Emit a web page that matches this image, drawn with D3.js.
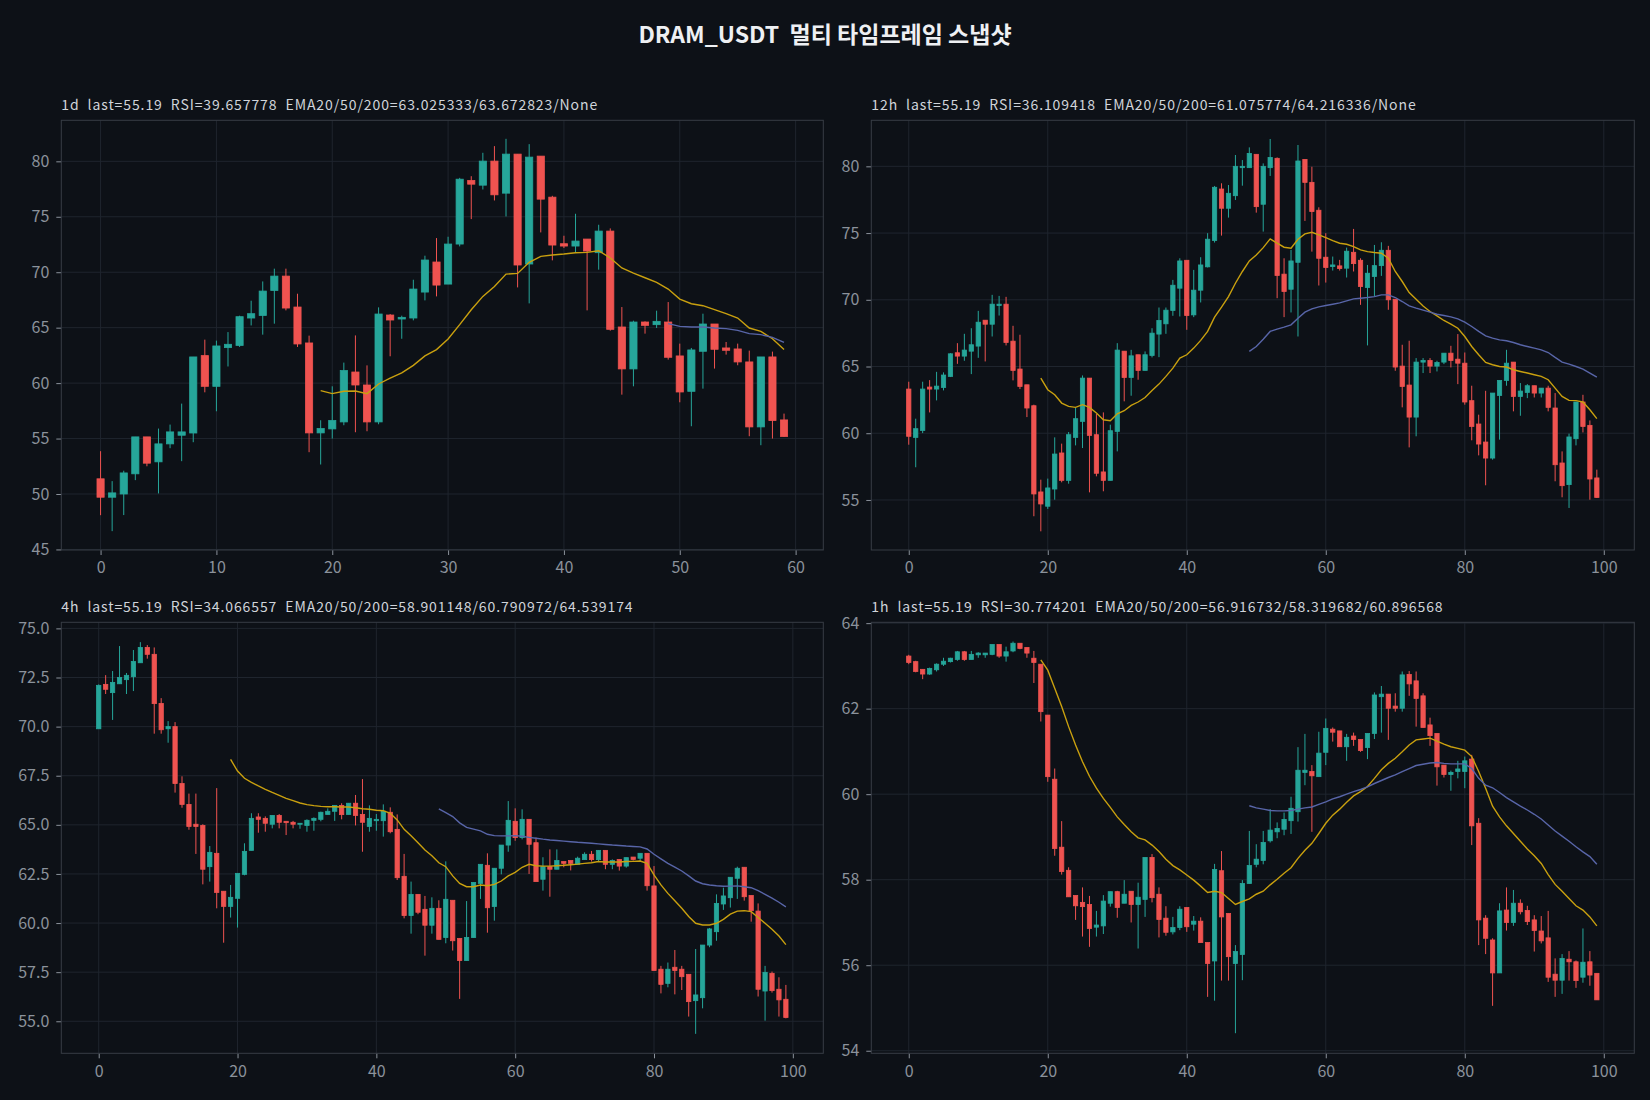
<!DOCTYPE html>
<html>
<head>
<meta charset="utf-8">
<script src="https://cdn.jsdelivr.net/npm/d3@7"></script>
<style>
  html, body { margin: 0; padding: 0; background: #0d1117; }
  svg { display: block; }
  text { font-family: "Noto Sans CJK KR", "Noto Sans", sans-serif; }
</style>
</head>
<body>
<svg id="chart" width="1650" height="1100"></svg>
<script>
var title = 'DRAM_USDT  멀티 타임프레임 스냅샷';

var EMA20_START = 19;
var EMA50_START = 49;

// ---- 1d ----
var open1d = [51.37,49.71,50.0,51.82,55.15,52.9,54.52,55.3,55.5,62.48,59.71,63.2,63.4,65.87,66.1,68.36,69.65,66.86,63.62,55.51,55.87,56.5,61.0,59.83,56.5,66.14,65.78,65.87,68.21,70.92,68.93,72.54,78.27,77.85,80.02,77.13,80.65,70.74,80.47,76.77,72.57,72.36,72.99,71.76,73.71,65.06,61.28,65.51,65.27,65.51,62.45,59.26,62.87,65.33,63.17,63.08,61.91,56.05,62.36,56.68];
var high1d = [53.86,51.16,52.1,55.15,55.15,55.9,56.26,58.15,62.36,63.92,63.83,64.6,66.08,67.43,69.17,70.32,70.32,68.06,64.28,56.65,59.71,61.85,64.3,61.6,66.83,66.23,66.08,69.32,71.49,73.08,73.2,78.51,78.66,80.77,81.37,82.03,80.65,81.55,80.47,76.89,73.29,75.27,72.99,74.28,73.95,66.86,65.63,65.57,66.53,67.31,63.56,63.17,66.26,65.33,63.71,63.56,62.93,62.36,62.84,57.25];
var low1d = [48.09,46.65,48.1,51.25,52.5,50.05,54.13,52.96,54.67,59.17,57.46,61.5,63.26,65.2,64.37,65.36,66.56,63.26,53.77,52.66,55.0,56.2,55.57,55.66,56.29,62.42,64.0,65.66,67.46,67.82,68.93,72.33,74.79,77.46,76.47,75.03,68.63,67.19,73.59,71.07,72.18,71.76,66.56,70.23,64.73,58.96,59.71,64.46,64.97,62.12,58.27,56.11,59.5,61.31,62.57,61.61,55.21,54.4,55.0,55.15];
var close1d = [49.71,50.1,51.9,55.15,52.78,54.52,55.6,55.6,62.36,59.71,63.35,63.5,65.99,66.26,68.3,69.65,66.77,63.53,55.51,55.9,56.62,61.13,59.83,56.5,66.23,65.69,65.93,68.48,71.1,68.84,72.54,78.39,77.94,80.02,76.98,80.65,70.65,80.38,76.59,72.45,72.36,72.81,71.91,73.71,64.85,61.28,65.51,65.21,65.57,62.33,59.2,62.99,65.33,63.05,62.96,61.91,56.05,62.36,56.62,55.19];
var ema20_1d = [59.32,59.05,59.26,59.29,59.05,59.92,60.44,60.92,61.6,62.45,63.02,63.98,65.27,66.62,67.82,68.72,69.83,69.89,70.89,71.43,71.55,71.64,71.76,71.79,71.94,71.28,70.38,69.92,69.5,69.08,68.48,67.58,67.16,66.98,66.62,66.26,65.87,64.97,64.67,64.0,63.03];
var ema50_1d = [65.36,65.12,65.06,65.06,64.97,64.91,64.76,64.46,64.37,64.13,63.67];

// ---- 12h ----
var open12h = [63.31,59.69,60.21,63.46,63.31,63.43,64.26,66.03,65.78,66.15,66.53,68.47,68.17,69.57,69.67,66.9,64.81,63.63,62.06,55.6,54.53,55.82,58.52,56.47,59.69,60.89,64.13,59.89,57.1,56.47,60.14,66.15,64.18,65.88,64.71,65.83,67.43,68.2,69.2,70.87,72.96,68.87,70.72,72.47,74.44,78.3,76.86,77.8,79.9,79.9,80.9,77.16,79.9,80.6,71.92,70.79,72.81,80.52,78.8,76.71,73.19,72.49,72.54,72.37,73.56,72.96,70.92,71.74,72.56,73.71,70.04,65.03,63.61,61.21,65.33,65.45,65.03,65.33,66.0,65.55,65.25,62.44,60.69,59.34,58.14,62.83,63.96,65.33,62.76,63.06,63.56,63.01,63.38,61.89,57.77,56.15,59.59,62.34,60.59,56.65];
var high12h = [63.86,61.09,63.86,63.98,64.6,64.56,66.0,66.75,67.45,67.87,69.17,68.47,70.37,70.29,70.22,68.05,67.38,63.63,62.14,56.52,56.6,59.69,59.22,60.09,61.89,64.33,64.13,61.44,61.56,60.64,66.75,66.15,66.25,65.88,66.13,67.87,69.42,69.42,71.49,73.11,72.96,72.24,73.19,74.99,78.53,78.73,78.6,80.85,80.47,81.42,80.9,80.22,82.05,80.67,73.11,73.74,81.6,80.52,79.97,76.93,74.99,73.24,72.99,73.91,75.31,73.11,72.61,74.11,74.31,74.04,70.04,66.63,66.93,65.63,65.63,65.63,65.43,66.0,66.55,67.43,66.05,63.56,61.39,63.18,63.01,63.96,66.25,65.33,63.76,63.68,63.56,63.38,63.56,63.01,58.64,59.97,62.34,62.88,60.96,57.27];
var low12h = [59.14,57.45,60.01,61.56,62.46,63.21,64.21,65.2,65.43,64.43,65.65,65.38,67.25,68.82,66.58,63.96,63.31,61.21,53.78,52.65,54.33,55.02,56.32,56.22,59.09,58.89,55.57,56.77,55.65,56.47,58.64,62.39,62.81,64.01,64.71,65.68,65.7,67.45,68.8,68.75,67.75,68.7,69.8,72.42,74.29,74.81,76.16,77.48,78.55,79.9,76.53,75.11,79.28,70.12,68.7,69.05,67.25,75.91,73.61,71.07,71.29,72.19,72.19,71.67,72.12,69.62,66.58,70.24,71.79,69.25,64.68,61.94,58.94,59.77,64.51,64.51,64.63,65.18,64.93,63.68,62.14,59.47,58.34,56.1,58.02,59.52,63.56,61.64,61.31,62.63,62.68,62.68,61.64,56.4,55.2,54.4,59.09,60.06,55.02,55.15];
var close12h = [59.77,60.34,63.31,63.31,63.53,64.36,65.95,65.78,66.23,66.63,68.32,68.17,69.67,69.67,66.8,64.71,63.51,61.89,55.45,54.7,55.9,58.44,56.47,59.89,61.09,64.13,59.84,57.0,56.47,60.19,66.23,64.18,65.8,64.71,65.88,67.5,68.45,69.22,71.09,72.91,68.82,70.72,72.61,74.54,78.43,76.86,77.98,80.0,80.0,80.97,76.98,80.0,80.67,71.82,70.62,72.91,80.4,78.8,76.61,73.11,72.42,72.61,72.34,73.64,72.71,70.99,71.99,72.56,73.71,70.0,64.96,63.51,61.21,65.33,65.45,65.03,65.3,66.0,65.45,65.25,62.34,60.51,59.19,58.14,63.01,63.96,65.25,62.76,63.16,63.56,63.01,63.38,61.94,57.64,56.07,59.72,62.34,60.51,56.57,55.19];
var ema20_12h = [64.13,63.26,62.88,62.26,62.01,61.94,62.14,61.94,61.51,61.01,60.94,61.46,61.69,62.09,62.34,62.68,63.21,63.68,64.26,64.88,65.63,65.88,66.38,66.96,67.63,68.7,69.45,70.24,71.24,72.12,72.91,73.36,73.91,74.56,74.24,73.94,73.86,74.54,74.94,75.06,74.86,74.66,74.44,74.24,74.16,73.99,73.74,73.61,73.54,73.49,73.11,72.12,71.37,70.54,70.04,69.54,69.12,68.8,68.45,68.17,67.87,67.25,66.5,65.88,65.3,65.13,65.0,64.96,64.76,64.63,64.51,64.38,64.26,64.01,63.38,62.76,62.46,62.44,62.34,61.76,61.09];
var ema50_12h = [66.13,66.5,67.05,67.63,67.8,67.95,68.12,68.62,69.07,69.32,69.47,69.57,69.67,69.77,69.92,70.07,70.12,70.17,70.24,70.37,70.37,70.17,69.87,69.54,69.37,69.22,69.07,68.92,68.82,68.72,68.57,68.32,68.0,67.63,67.3,67.13,67.0,66.93,66.8,66.63,66.5,66.38,66.25,66.05,65.68,65.33,65.18,65.0,64.81,64.51,64.2];

// ---- 4h ----
var open4h = [69.89,72.15,71.73,72.18,72.39,72.54,73.25,74.03,73.68,71.18,69.89,70.0,67.1,66.04,65.03,64.97,62.87,63.55,61.62,60.85,61.26,62.48,63.7,65.4,65.33,65.03,65.48,65.18,65.13,65.03,64.97,65.23,65.28,65.53,65.69,65.99,65.53,66.1,65.53,64.92,65.21,65.21,65.64,64.77,62.38,60.38,61.46,60.7,59.89,60.75,59.26,61.16,59.22,58.09,59.26,62.02,62.94,60.84,62.79,63.97,65.18,64.35,65.28,64.09,62.23,62.87,62.74,63.13,63.18,62.99,63.23,63.5,63.23,63.7,62.99,63.24,62.9,63.36,63.3,63.55,61.89,57.65,56.93,57.75,57.65,57.39,56.05,56.2,58.88,59.56,60.97,61.29,62.28,62.84,61.4,60.61,56.54,57.44,56.63,56.12];
var high4h = [72.15,72.62,72.83,74.1,72.73,73.9,74.3,74.15,74.03,71.45,70.28,70.23,67.47,66.59,66.59,65.03,63.92,66.87,61.62,61.94,62.53,64.06,65.59,65.59,65.43,65.48,65.55,65.18,65.2,65.08,65.28,65.38,65.67,65.84,65.99,66.1,66.1,66.52,67.33,65.99,65.55,66.04,65.89,65.53,63.52,62.11,61.46,61.38,61.31,61.16,63.14,61.16,59.22,61.12,62.07,62.99,63.55,62.79,63.97,66.21,65.84,65.79,65.28,64.35,63.35,63.75,63.75,63.13,63.18,63.38,63.6,63.67,63.7,63.7,63.24,63.24,63.33,63.36,63.55,63.55,62.9,57.82,57.99,58.63,57.82,57.39,58.68,58.88,59.75,61.46,61.8,62.33,62.87,62.84,61.4,61.0,57.82,57.53,57.24,56.85];
var low4h = [69.89,71.66,70.34,72.18,71.66,71.81,73.25,73.46,69.64,69.64,69.18,66.64,65.87,64.75,63.52,61.97,62.11,60.75,59.0,60.28,59.77,62.43,63.7,64.6,64.65,64.82,64.82,64.48,64.82,64.8,64.65,64.7,65.18,65.53,65.2,65.28,65.53,64.97,63.63,64.65,64.7,64.4,64.57,62.19,60.24,59.46,60.45,58.34,59.46,59.17,58.97,58.6,56.14,58.09,59.26,61.23,59.51,60.12,62.48,63.63,64.19,64.26,62.5,62.11,61.65,61.34,62.74,62.84,62.68,62.99,63.23,63.13,63.13,62.74,62.74,62.67,62.82,63.18,63.13,61.65,57.58,56.42,56.73,56.37,56.59,55.24,54.36,55.66,58.77,59.1,60.67,60.79,61.23,61.14,60.07,56.26,55.03,56.46,55.24,55.15];
var close4h = [72.1,71.9,72.25,72.5,72.61,73.32,74.03,73.68,71.17,69.84,70.0,67.1,66.04,64.92,64.92,62.74,63.6,61.56,60.85,61.31,62.53,63.65,65.33,65.28,65.08,65.48,65.13,65.11,65.03,65.08,65.23,65.33,65.64,65.69,65.99,65.52,66.1,65.48,65.13,65.33,65.28,65.69,64.65,62.31,60.38,61.46,60.55,59.89,60.75,59.17,61.21,59.1,58.09,59.27,62.07,62.99,60.78,62.79,63.97,65.23,64.35,65.28,64.01,62.11,62.87,62.74,63.18,63.04,63.04,63.3,63.5,63.23,63.7,62.99,63.18,62.9,63.33,63.24,63.55,61.9,57.58,56.88,57.65,57.58,57.27,56.0,56.34,58.88,59.7,61.0,61.38,62.33,62.79,61.34,60.63,56.63,57.49,56.56,56.09,55.19];
var ema20_4h = [68.33,67.74,67.37,67.16,66.98,66.81,66.65,66.5,66.35,66.23,66.11,66.03,65.98,65.94,65.92,65.92,65.91,65.91,65.87,65.82,65.79,65.74,65.72,65.59,65.25,64.77,64.45,64.09,63.72,63.43,63.07,62.87,62.4,62.02,61.85,61.85,61.94,61.9,61.97,62.14,62.4,62.58,62.84,62.99,62.92,62.9,62.9,62.92,62.94,62.97,63.0,63.04,63.07,63.13,63.11,63.11,63.11,63.13,63.14,63.16,63.04,62.45,61.94,61.51,61.14,60.75,60.33,59.99,59.9,59.9,59.99,60.19,60.45,60.61,60.63,60.58,60.28,59.99,59.68,59.34,58.9];
var ema50_4h = [65.81,65.62,65.42,65.1,64.87,64.78,64.69,64.52,64.45,64.44,64.44,64.45,64.42,64.36,64.32,64.27,64.23,64.2,64.17,64.14,64.11,64.09,64.06,64.03,64.0,63.97,63.95,63.92,63.9,63.88,63.77,63.5,63.27,63.04,62.85,62.65,62.4,62.14,62.0,61.94,61.9,61.87,61.88,61.89,61.85,61.8,61.65,61.46,61.27,61.06,60.82];

// ---- 1h ----
var open1h = [63.23,63.1,62.92,62.81,62.91,63.04,63.1,63.15,63.33,63.15,63.26,63.26,63.27,63.5,63.23,63.35,63.53,63.43,63.18,63.04,61.85,60.35,58.76,58.22,57.63,57.47,57.42,56.89,56.92,57.45,57.72,57.45,57.73,57.42,57.54,58.52,57.66,57.1,56.78,56.88,57.35,56.96,57.03,56.53,56.1,58.21,57.21,56.04,56.25,57.91,58.36,58.45,58.91,59.12,59.18,59.38,59.59,60.51,60.53,60.41,60.98,61.52,61.48,61.11,61.36,61.28,61.09,61.42,62.28,62.34,62.06,62.01,62.8,62.65,62.3,61.62,61.42,60.68,60.46,60.53,60.53,60.82,59.32,57.1,56.59,55.82,57.29,57.0,57.45,57.28,57.06,56.8,56.64,55.79,55.65,56.14,56.08,55.72,56.08,55.81];
var high1h = [63.26,63.12,62.92,62.96,63.06,63.19,63.19,63.35,63.35,63.35,63.32,63.3,63.5,63.5,63.45,63.57,63.53,63.43,63.35,63.04,61.85,60.6,59.37,58.29,57.63,57.82,57.62,57.27,57.64,57.72,57.74,57.99,57.73,57.93,58.52,58.6,57.82,57.38,57.13,57.38,57.35,57.15,57.12,56.53,58.37,58.67,57.21,56.47,57.99,59.14,58.83,59.14,59.65,59.34,59.57,59.94,61.1,61.41,60.68,61.46,61.77,61.56,61.48,61.41,61.44,61.28,61.42,62.38,62.53,62.34,62.36,62.87,62.88,62.87,62.36,61.79,61.42,60.68,60.55,60.78,60.88,60.92,59.44,57.17,56.63,57.45,57.82,57.76,57.54,57.39,57.17,57.15,57.27,56.16,56.26,56.33,56.11,56.86,56.33,55.81];
var low1h = [63.04,62.85,62.69,62.79,62.87,63.0,63.08,63.12,63.12,63.15,63.19,63.19,63.25,63.19,63.1,63.32,63.39,63.19,62.6,61.7,60.29,58.56,58.12,57.6,57.06,56.67,56.43,56.67,56.73,57.37,57.11,57.45,57.0,56.39,57.13,57.47,56.65,56.69,56.72,56.82,56.78,56.81,56.53,55.26,55.17,55.64,55.64,54.41,55.65,57.91,58.29,58.36,58.87,58.97,59.04,59.07,59.36,60.21,59.12,60.41,60.68,61.23,61.11,60.78,61.13,60.99,60.82,61.29,61.44,61.27,61.93,61.93,62.3,61.58,61.56,61.13,60.2,60.39,60.08,60.37,60.14,58.81,56.47,56.26,55.05,55.82,56.81,56.92,57.19,56.94,56.32,56.51,55.61,55.26,55.33,55.64,55.47,55.59,55.52,55.19];
var close1h = [63.08,62.87,62.81,62.94,63.04,63.11,63.18,63.33,63.15,63.27,63.3,63.3,63.5,63.23,63.33,63.53,63.41,63.3,63.08,61.93,60.41,58.73,58.19,57.6,57.39,57.37,56.86,56.94,57.5,57.72,57.35,57.66,57.42,57.59,58.52,57.58,57.07,56.77,56.88,57.31,56.9,57.03,56.53,56.04,58.24,57.13,56.2,56.32,57.91,58.33,58.48,58.87,59.16,59.2,59.41,59.67,60.56,60.56,60.43,60.96,61.54,61.45,61.11,61.33,61.28,61.02,61.42,62.32,62.34,62.01,62.01,62.79,62.58,62.24,61.56,61.37,60.64,60.46,60.51,60.59,60.78,59.26,57.06,56.63,55.82,57.27,57.0,57.45,57.25,57.02,56.81,56.57,55.72,55.65,56.16,56.08,55.64,56.07,55.77,55.19];
var ema20_1h = [63.14,62.9,62.48,62.05,61.58,61.15,60.76,60.42,60.14,59.9,59.69,59.47,59.29,59.12,58.98,58.93,58.81,58.66,58.48,58.33,58.23,58.11,57.99,57.85,57.7,57.73,57.7,57.56,57.42,57.49,57.55,57.66,57.73,57.88,58.01,58.15,58.28,58.5,58.69,58.85,59.08,59.32,59.51,59.65,59.81,59.96,60.06,60.18,60.37,60.57,60.72,60.84,60.99,61.15,61.27,61.29,61.31,61.24,61.17,61.11,61.07,61.03,60.88,60.53,60.14,59.72,59.47,59.26,59.08,58.9,58.72,58.56,58.38,58.12,57.89,57.73,57.56,57.39,57.29,57.13,56.92];
var ema50_1h = [59.73,59.68,59.65,59.62,59.61,59.61,59.62,59.65,59.68,59.7,59.76,59.82,59.89,59.94,60.0,60.06,60.11,60.17,60.25,60.32,60.39,60.45,60.53,60.6,60.67,60.7,60.73,60.74,60.72,60.71,60.71,60.71,60.6,60.37,60.21,60.15,60.04,59.92,59.82,59.72,59.63,59.53,59.42,59.28,59.14,59.02,58.9,58.77,58.65,58.54,58.36];

var panels = [
	{ label: '1d  last=55.19  RSI=39.657778  EMA20/50/200=63.025333/63.672823/None',
	  o: open1d, h: high1d, l: low1d, c: close1d, e20: ema20_1d, e50: ema50_1d,
	  box: [61.3, 120.3, 823.3, 550], xDom: [-3.39, 62.39], yDom: [44.95, 83.7],
	  xTicks: [0, 10, 20, 30, 40, 50, 60], yTicks: [45, 50, 55, 60, 65, 70, 75, 80], yFmt: d3.format('d') },
	{ label: '12h  last=55.19  RSI=36.109418  EMA20/50/200=61.075774/64.216336/None',
	  o: open12h, h: high12h, l: low12h, c: close12h, e20: ema20_12h, e50: ema50_12h,
	  box: [871.3, 120.3, 1634.3, 550], xDom: [-5.39, 104.39], yDom: [51.25, 83.45],
	  xTicks: [0, 20, 40, 60, 80, 100], yTicks: [55, 60, 65, 70, 75, 80], yFmt: d3.format('d') },
	{ label: '4h  last=55.19  RSI=34.066557  EMA20/50/200=58.901148/60.790972/64.539174',
	  o: open4h, h: high4h, l: low4h, c: close4h, e20: ema20_4h, e50: ema50_4h,
	  box: [61.3, 622.3, 823.3, 1053.3], xDom: [-5.39, 104.39], yDom: [53.37, 75.31],
	  xTicks: [0, 20, 40, 60, 80, 100], yTicks: [55, 57.5, 60, 62.5, 65, 67.5, 70, 72.5, 75], yFmt: d3.format('.1f') },
	{ label: '1h  last=55.19  RSI=30.774201  EMA20/50/200=56.916732/58.319682/60.896568',
	  o: open1h, h: high1h, l: low1h, c: close1h, e20: ema20_1h, e50: ema50_1h,
	  box: [871.3, 622.3, 1634.3, 1053.3], xDom: [-5.39, 104.39], yDom: [53.94, 64.02],
	  xTicks: [0, 20, 40, 60, 80, 100], yTicks: [54, 56, 58, 60, 62, 64], yFmt: d3.format('d') }
];

var UP = '#26a69a', DOWN = '#ef5350';
var svg = d3.select( '#chart' );

svg.append( 'rect' ).attr( 'width', 1650 ).attr( 'height', 1100 ).attr( 'fill', '#0d1117' );

svg.append( 'text' )
	.attr( 'x', 825 ).attr( 'y', 43 )
	.attr( 'text-anchor', 'middle' )
	.attr( 'fill', '#eef0f3' )
	.style( 'font-size', '23px' )
	.style( 'font-weight', 'bold' )
	.style( 'white-space', 'pre' )
	.text( title );

panels.forEach( function ( p, pi ) {
	var x0 = p.box[0], y0 = p.box[1], x1 = p.box[2], y1 = p.box[3];
	var x = d3.scaleLinear().domain( p.xDom ).range( [ x0, x1 ] );
	var y = d3.scaleLinear().domain( p.yDom ).range( [ y1, y0 ] );
	var g = svg.append( 'g' );

	g.append( 'clipPath' ).attr( 'id', 'clip' + pi )
		.append( 'rect' ).attr( 'x', x0 ).attr( 'y', y0 ).attr( 'width', x1 - x0 ).attr( 'height', y1 - y0 );

	// grid
	g.selectAll( 'line.gx' ).data( p.xTicks ).enter().append( 'line' )
		.attr( 'x1', function ( d ) { return x( d ) } ).attr( 'x2', function ( d ) { return x( d ) } )
		.attr( 'y1', y0 ).attr( 'y2', y1 )
		.attr( 'stroke', '#1f252e' ).attr( 'stroke-width', 1 );
	g.selectAll( 'line.gy' ).data( p.yTicks ).enter().append( 'line' )
		.attr( 'x1', x0 ).attr( 'x2', x1 )
		.attr( 'y1', function ( d ) { return y( d ) } ).attr( 'y2', function ( d ) { return y( d ) } )
		.attr( 'stroke', '#1f252e' ).attr( 'stroke-width', 1 );

	// axes
	var xAxis = d3.axisBottom( x ).tickValues( p.xTicks ).tickSize( 5 ).tickPadding( 7 ).tickFormat( d3.format( 'd' ) );
	var yAxis = d3.axisLeft( y ).tickValues( p.yTicks ).tickSize( 5 ).tickPadding( 7 ).tickFormat( p.yFmt );
	var ax = g.append( 'g' ).attr( 'transform', 'translate(0,' + y1 + ')' ).call( xAxis );
	var ay = g.append( 'g' ).attr( 'transform', 'translate(' + x0 + ',0)' ).call( yAxis );
	[ ax, ay ].forEach( function ( a ) {
		a.select( '.domain' ).remove();
		a.selectAll( 'line' ).attr( 'stroke', '#8b929b' );
		a.selectAll( 'text' ).attr( 'fill', '#8b929b' ).style( 'font-size', '16px' )
			.style( 'font-family', '"Noto Sans CJK KR", "Noto Sans", sans-serif' );
	} );

	var plot = g.append( 'g' ).attr( 'clip-path', 'url(#clip' + pi + ')' );
	var idx = d3.range( p.o.length );
	var bw = ( x( 0.62 ) - x( 0 ) );

	plot.selectAll( 'line.wick' ).data( idx ).enter().append( 'line' )
		.attr( 'x1', function ( i ) { return x( i ) } ).attr( 'x2', function ( i ) { return x( i ) } )
		.attr( 'y1', function ( i ) { return y( p.h[i] ) } ).attr( 'y2', function ( i ) { return y( p.l[i] ) } )
		.attr( 'stroke', function ( i ) { return p.c[i] >= p.o[i] ? UP : DOWN } )
		.attr( 'stroke-width', 1 );

	plot.selectAll( 'rect.body' ).data( idx ).enter().append( 'rect' )
		.attr( 'x', function ( i ) { return x( i ) - bw / 2 } )
		.attr( 'width', bw )
		.attr( 'y', function ( i ) { return y( Math.max( p.o[i], p.c[i] ) ) } )
		.attr( 'height', function ( i ) { return Math.max( 1, Math.abs( y( p.o[i] ) - y( p.c[i] ) ) ) } )
		.attr( 'fill', function ( i ) { return p.c[i] >= p.o[i] ? UP : DOWN } )
		.attr( 'stroke', function ( i ) { return p.c[i] >= p.o[i] ? UP : DOWN } )
		.attr( 'stroke-width', 0.8 );

	var line20 = d3.line().x( function ( d, k ) { return x( EMA20_START + k ) } ).y( function ( d ) { return y( d ) } );
	var line50 = d3.line().x( function ( d, k ) { return x( EMA50_START + k ) } ).y( function ( d ) { return y( d ) } );
	plot.append( 'path' ).attr( 'd', line20( p.e20 ) )
		.attr( 'fill', 'none' ).attr( 'stroke', '#c9a00f' ).attr( 'stroke-width', 1.4 );
	plot.append( 'path' ).attr( 'd', line50( p.e50 ) )
		.attr( 'fill', 'none' ).attr( 'stroke', '#5865a8' ).attr( 'stroke-width', 1.4 );

	// frame
	g.append( 'rect' ).attr( 'x', x0 ).attr( 'y', y0 ).attr( 'width', x1 - x0 ).attr( 'height', y1 - y0 )
		.attr( 'fill', 'none' ).attr( 'stroke', '#373d45' ).attr( 'stroke-width', 1 );

	g.append( 'text' )
		.attr( 'x', x0 ).attr( 'y', y0 - 10 )
		.attr( 'fill', '#d0d4da' )
		.style( 'font-size', '14px' )
		.style( 'letter-spacing', '0.9px' )
		.style( 'white-space', 'pre' )
		.text( p.label );
} );
</script>
</body>
</html>
